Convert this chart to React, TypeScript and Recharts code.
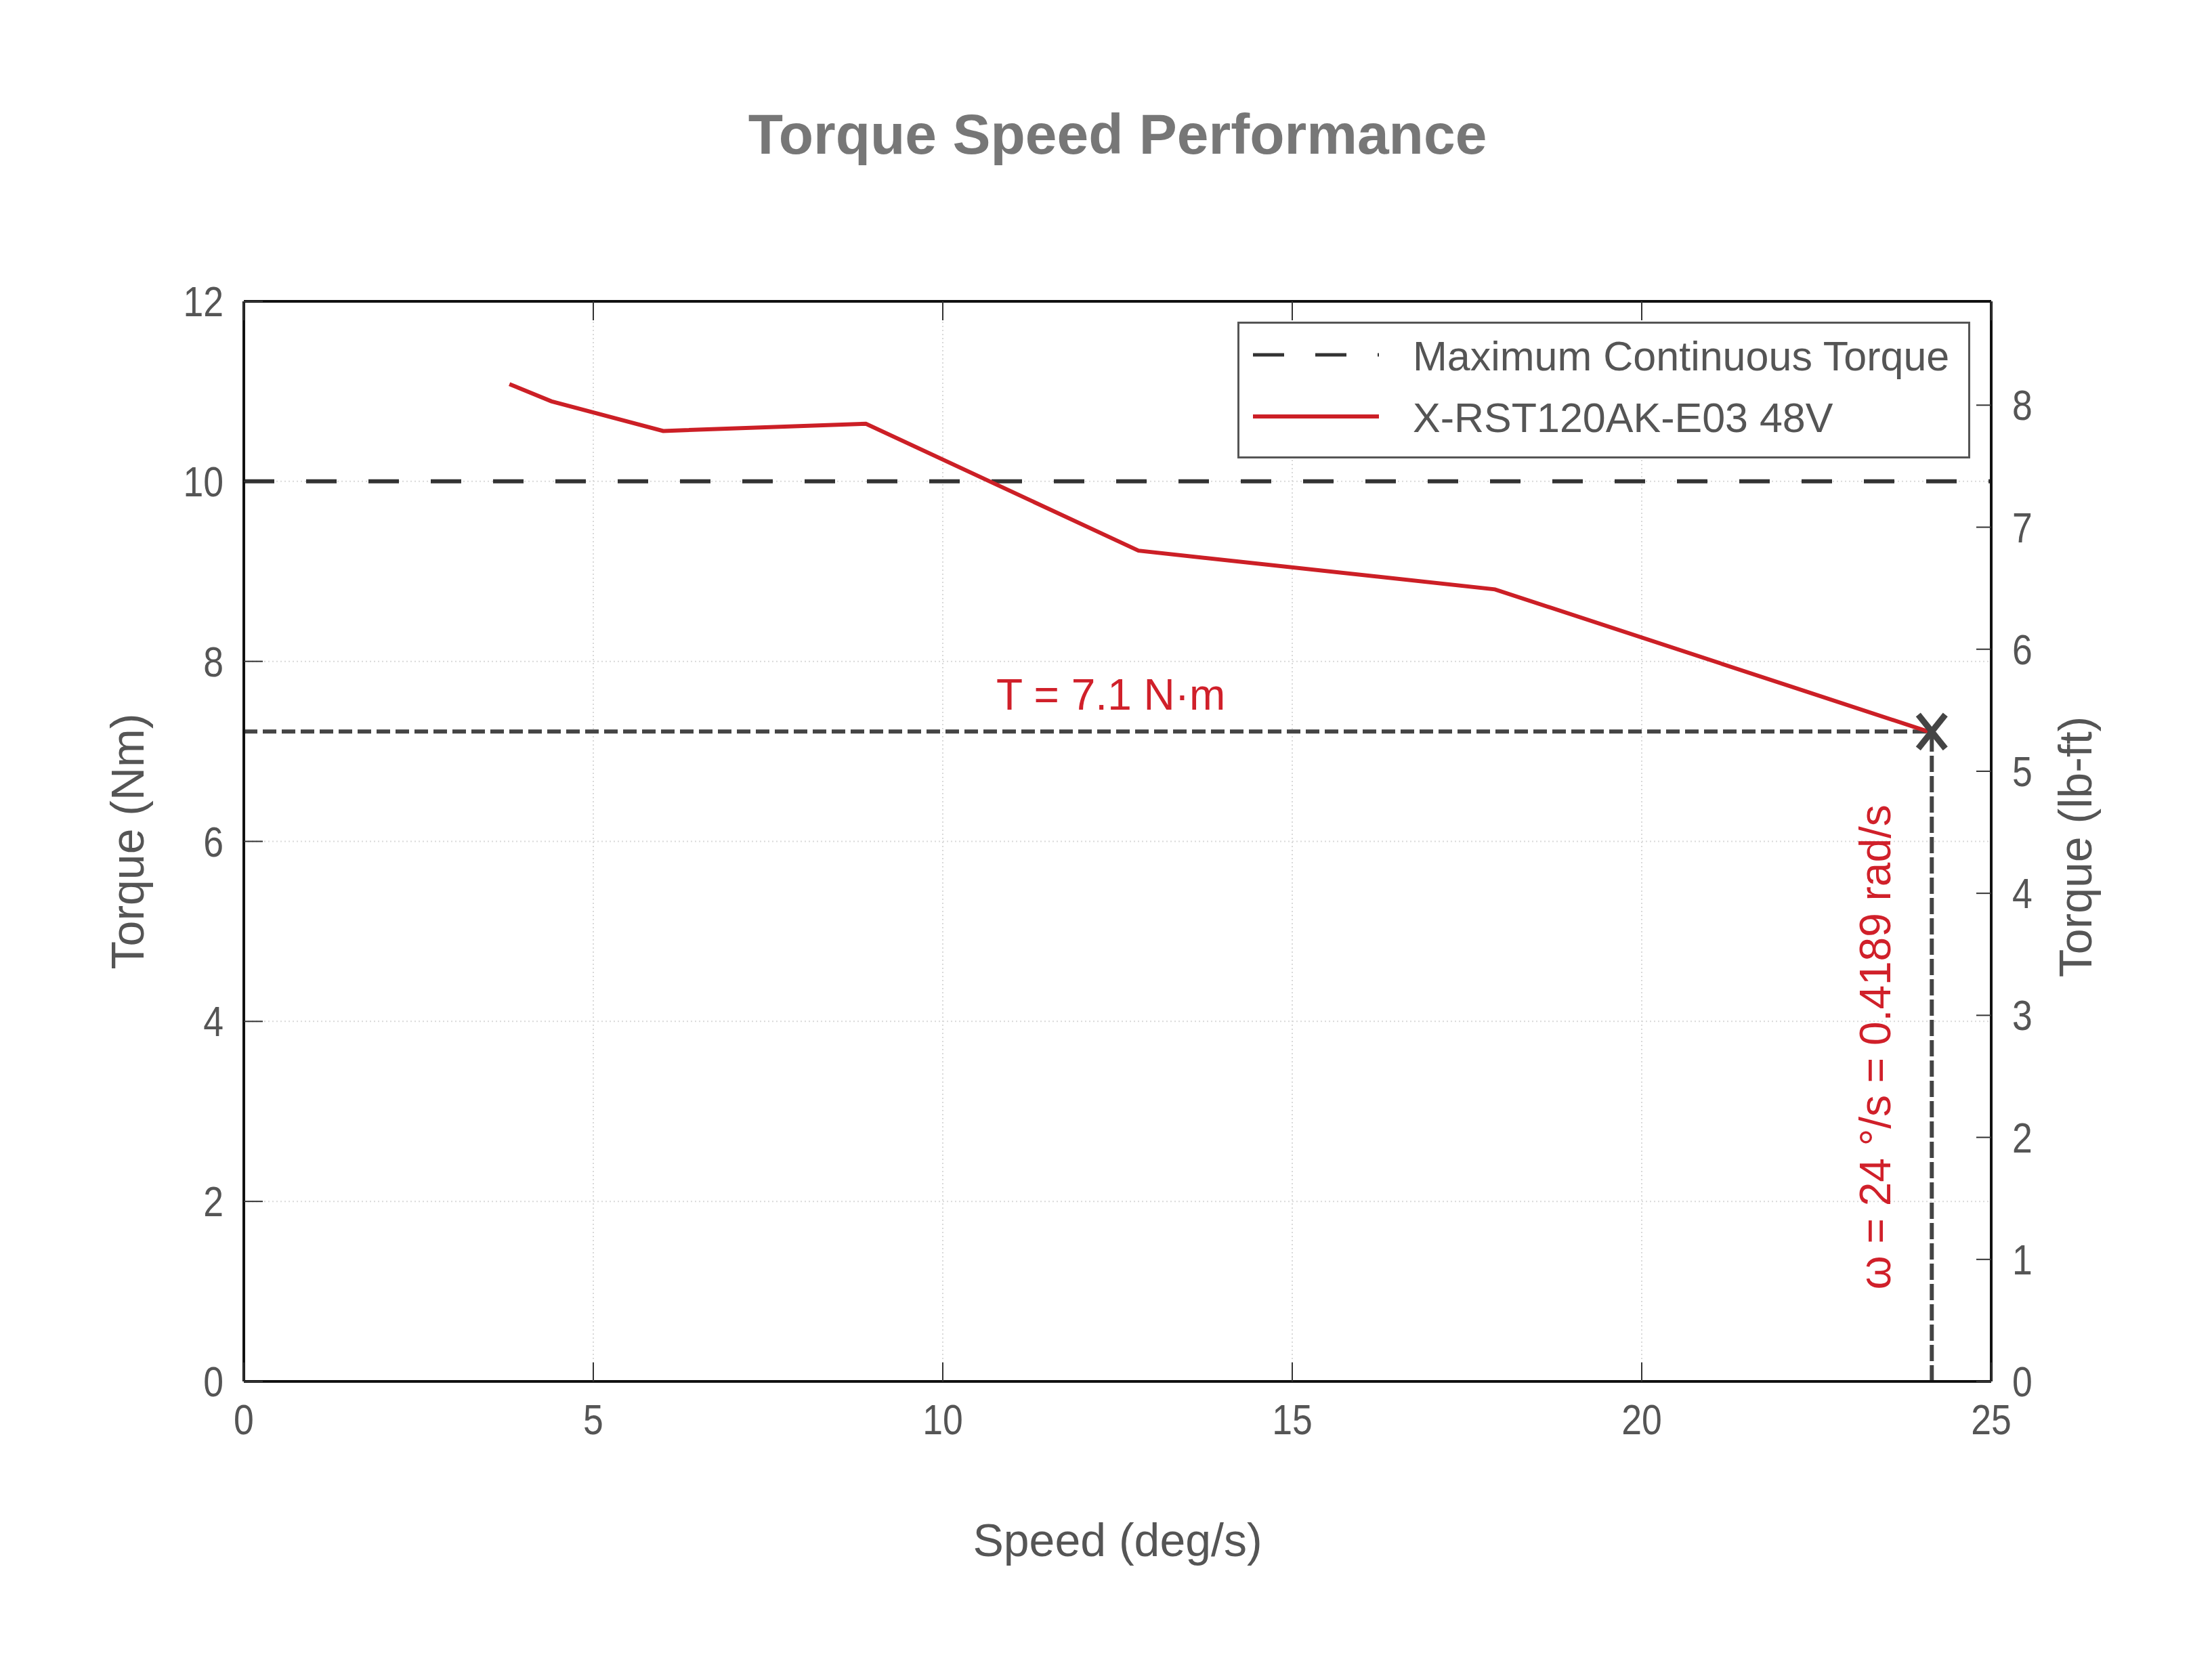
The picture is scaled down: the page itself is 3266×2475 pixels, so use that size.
import { LineChart, Line, XAxis, YAxis, CartesianGrid, ReferenceLine, ReferenceDot, Legend } from 'recharts';

const speed = [3.8, 4.4, 6.0, 8.9, 12.8, 17.9, 24.1];
const torque = [11.08, 10.89, 10.56, 10.64, 9.23, 8.8, 7.22];

const speedTicks = [0, 5, 10, 15, 20, 25];
const torqueTicks = [0, 2, 4, 6, 8, 10, 12];
const lbftTicks = [0, 1, 2, 3, 4, 5, 6, 7, 8];

const NM_TO_LBFT = 0.737562;
const maxContinuousTorque = 10;
const ratedSpeed = 24.15;
const ratedTorque = 7.22;

const legendItems = [
  { label: 'Maximum Continuous Torque', color: '#333333', dash: '46 46', width: 5 },
  { label: 'X-RST120AK-E03 48V', color: '#cc1f26', dash: undefined, width: 6 },
];

const data = speed.map((s, i) => ({ speed: s, torque: torque[i] }));

const FONT = "'Liberation Sans', Arial, sans-serif";
const RED = '#d0202a';
const TEXT = '#555555';

// tick labels in the original are a narrow face, so squeeze them a little
const TickText = ({ x, y, anchor, value }: any) => (
  <text
    x={0}
    y={0}
    transform={`translate(${x}, ${y}) scale(0.85, 1)`}
    textAnchor={anchor}
    fontSize={63}
    fontFamily={FONT}
    fill={TEXT}
  >
    {value}
  </text>
);

const BottomTick = ({ x, y, payload }: any) => (
  <g>
    <line x1={x} x2={x} y1={y} y2={y - 28} stroke="#333" strokeWidth={2} />
    <TickText x={x} y={y + 78} anchor="middle" value={payload.value} />
  </g>
);

const TopTick = ({ x, y }: any) => <line x1={x} x2={x} y1={y} y2={y + 28} stroke="#333" strokeWidth={2} />;

const LeftTick = ({ x, y, payload }: any) => (
  <g>
    <line x1={x} x2={x + 28} y1={y} y2={y} stroke="#333" strokeWidth={2} />
    <TickText x={x - 30} y={y + 22} anchor="end" value={payload.value} />
  </g>
);

const RightTick = ({ x, y, payload }: any) => (
  <g>
    <line x1={x - 22} x2={x} y1={y} y2={y} stroke="#333" strokeWidth={2} />
    <TickText x={x + 31} y={y + 22} anchor="start" value={payload.value} />
  </g>
);

const XMark = ({ cx, cy }: any) => (
  <g stroke="#444" strokeWidth={9}>
    <line x1={cx - 20} y1={cy - 25} x2={cx + 20} y2={cy + 25} />
    <line x1={cx + 20} y1={cy - 25} x2={cx - 20} y2={cy + 25} />
  </g>
);

const LegendBox = () => (
  <svg width={1082} height={202} style={{ display: 'block' }}>
    <rect x={1.5} y={1.5} width={1079} height={199} fill="#fff" stroke="#555" strokeWidth={3} />
    {legendItems.map((item, i) => {
      const cy = 49 + i * 91;
      return (
        <g key={item.label}>
          <line x1={23} x2={209} y1={cy} y2={cy} stroke={item.color} strokeWidth={item.width} strokeDasharray={item.dash} />
          <text x={259} y={cy + 23} fontSize={61} fontFamily={FONT} fill={TEXT}>
            {item.label}
          </text>
        </g>
      );
    })}
  </svg>
);

export default function App() {
  return (
    <div style={{ position: 'absolute', left: 0, top: 0, width: 3266, height: 2475, background: '#fff' }}>
      <LineChart width={3266} height={2475} data={data} margin={{ top: 0, right: 0, bottom: 0, left: 0 }}>
        <CartesianGrid stroke="#d9d9d9" strokeDasharray="2 4" strokeWidth={2} />
        <XAxis
          dataKey="speed"
          type="number"
          domain={[0, 25]}
          allowDataOverflow
          ticks={speedTicks}
          interval={0}
          height={435}
          tickSize={0}
          tickMargin={0}
          tickLine={false}
          axisLine={{ stroke: '#111', strokeWidth: 4 }}
          tick={(p: any) => <BottomTick {...p} />}
          label={({ viewBox }: any) => (
            <text x={viewBox.x + viewBox.width / 2} y={viewBox.y + 258} textAnchor="middle" fontSize={68} fontFamily={FONT} fill={TEXT}>
              Speed (deg/s)
            </text>
          )}
        />
        <XAxis
          xAxisId="top"
          orientation="top"
          dataKey="speed"
          type="number"
          domain={[0, 25]}
          allowDataOverflow
          ticks={speedTicks}
          interval={0}
          height={445}
          tickSize={0}
          tickMargin={0}
          tickLine={false}
          axisLine={{ stroke: '#111', strokeWidth: 4 }}
          tick={(p: any) => <TopTick {...p} />}
          label={({ viewBox }: any) => (
            <text x={viewBox.x + viewBox.width / 2} y={227} textAnchor="middle" fontSize={84} fontWeight="bold" fontFamily={FONT} fill="#777">
              Torque Speed Performance
            </text>
          )}
        />
        <YAxis
          type="number"
          domain={[0, 12]}
          allowDataOverflow
          ticks={torqueTicks}
          interval={0}
          width={360}
          tickSize={0}
          tickMargin={0}
          tickLine={false}
          axisLine={{ stroke: '#111', strokeWidth: 4 }}
          tick={(p: any) => <LeftTick {...p} />}
          label={({ viewBox }: any) => {
            const cy = viewBox.y + viewBox.height / 2;
            return (
              <text x={212} y={cy} transform={`rotate(-90, 212, ${cy})`} textAnchor="middle" fontSize={68} fontFamily={FONT} fill={TEXT}>
                Torque (Nm)
              </text>
            );
          }}
        />
        <YAxis
          yAxisId="right"
          orientation="right"
          type="number"
          domain={[0, 12 * NM_TO_LBFT]}
          allowDataOverflow
          ticks={lbftTicks}
          interval={0}
          width={326}
          tickSize={0}
          tickMargin={0}
          tickLine={false}
          axisLine={{ stroke: '#111', strokeWidth: 4 }}
          tick={(p: any) => <RightTick {...p} />}
          label={({ viewBox }: any) => {
            const bx = viewBox.x + 148;
            const cy = viewBox.y + viewBox.height / 2 + 8;
            return (
              <text x={bx} y={cy} transform={`rotate(-90, ${bx}, ${cy})`} textAnchor="middle" fontSize={68} fontFamily={FONT} fill={TEXT}>
                Torque (lb-ft)
              </text>
            );
          }}
        />
        <ReferenceLine y={maxContinuousTorque} stroke="#333" strokeWidth={6} strokeDasharray="45 47" />
        <ReferenceLine
          segment={[{ x: 0, y: ratedTorque }, { x: ratedSpeed, y: ratedTorque }]}
          stroke="#444"
          strokeWidth={6}
          strokeDasharray="20 8"
          label={({ viewBox }: any) => (
            <text x={viewBox.x + viewBox.width / 2 + 34} y={viewBox.y - 32} textAnchor="middle" fontSize={64} fontFamily={FONT} fill={RED}>
              T = 7.1 N·m
            </text>
          )}
        />
        <ReferenceLine
          segment={[{ x: ratedSpeed, y: 0 }, { x: ratedSpeed, y: ratedTorque }]}
          stroke="#444"
          strokeWidth={6}
          strokeDasharray="24 6"
          label={({ viewBox }: any) => {
            const bx = viewBox.x - 61;
            const cy = viewBox.y + viewBox.height / 2 - 14;
            return (
              <text x={bx} y={cy} transform={`rotate(-90, ${bx}, ${cy})`} textAnchor="middle" fontSize={64} fontFamily={FONT} fill={RED}>
                ω = 24 °/s = 0.4189 rad/s
              </text>
            );
          }}
        />
        <Line type="linear" dataKey="torque" stroke="#cc1f26" strokeWidth={6} dot={false} activeDot={false} isAnimationActive={false} />
        <ReferenceDot x={ratedSpeed} y={ratedTorque} r={0} shape={(p: any) => <XMark {...p} />} />
        <Legend
          layout="horizontal"
          verticalAlign="middle"
          align="center"
          content={() => <LegendBox />}
          wrapperStyle={{ position: 'absolute', left: 1827, top: 475, width: 1082, height: 202 }}
        />
      </LineChart>
    </div>
  );
}
